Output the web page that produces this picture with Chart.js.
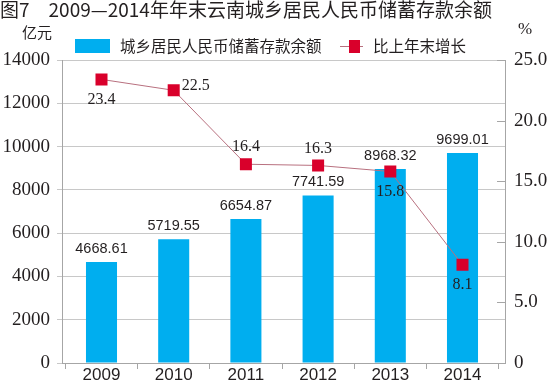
<!DOCTYPE html>
<html>
<head>
<meta charset="utf-8">
<script src="https://cdn.jsdelivr.net/npm/chart.js@4.4.0/dist/chart.umd.min.js"></script>
<style>
html,body{margin:0;padding:0;background:#fff;}
</style>
</head>
<body>
<canvas id="grafica" width="550" height="385"></canvas>
<script>
var title = '图7\u30002009—2014年年末云南城乡居民人民币储蓄存款余额';
var years = ['2009', '2010', '2011', '2012', '2013', '2014'];
var savings = [4668.61, 5719.55, 6654.87, 7741.59, 8968.32, 9699.01];
var growth = [23.4, 22.5, 16.4, 16.3, 15.8, 8.1];
var leftTicks = [0, 2000, 4000, 6000, 8000, 10000, 12000, 14000];
var rightTicks = [0, 5, 10, 15, 20, 25];

var txt = '#231f20';
var gris = '#a6a6a6';
var serif = '"Liberation Serif", "Times New Roman", serif';

var extras = {
    id: 'extras',
    afterLayout: function (chart) {
        // categorias un poco mas angostas que el area, como el original
        var x = chart.scales.x;
        x._startPixel = 65.4;
        x._endPixel = 498.6;
        x._length = 433.2;
    },
    afterDatasetsDraw: function (chart) {
        var ctx = chart.ctx;
        ctx.save();
        ctx.fillStyle = txt;
        // valores de barras
        ctx.font = '14.5px "Liberation Sans"';
        ctx.textAlign = 'center';
        ctx.textBaseline = 'alphabetic';
        chart.getDatasetMeta(0).data.forEach(function (bar, i) {
            ctx.fillText(savings[i].toFixed(2), bar.x, bar.y - 9);
        });
        // valores de la linea
        var lugar = ['abajo', 'derecha', 'arriba', 'arriba', 'abajo', 'abajo'];
        ctx.font = '16px ' + serif;
        ctx.textBaseline = 'middle';
        chart.getDatasetMeta(1).data.forEach(function (p, i) {
            var s = growth[i].toFixed(1);
            if (lugar[i] === 'derecha') {
                ctx.textAlign = 'left';
                ctx.fillText(s, p.x + 8, p.y - 5);
            } else if (lugar[i] === 'arriba') {
                ctx.textAlign = 'center';
                ctx.fillText(s, p.x, p.y - 17);
            } else {
                ctx.textAlign = 'center';
                ctx.fillText(s, p.x, p.y + 20);
            }
        });
        ctx.restore();
    },
    afterDraw: function (chart) {
        var ctx = chart.ctx;
        var ds = chart.data.datasets;
        ctx.save();
        ctx.fillStyle = txt;
        ctx.textBaseline = 'middle';
        ctx.textAlign = 'left';
        ctx.font = '19px "Noto Sans CJK SC"';
        ctx.fillText(title, 0, 10);
        ctx.font = '15px "Noto Sans CJK SC"';
        ctx.textAlign = 'center';
        ctx.fillText('亿元', 37, 32);
        ctx.font = '17px ' + serif;
        ctx.fillText('%', 525, 30);
        // leyenda
        ctx.textAlign = 'left';
        ctx.fillStyle = ds[0].backgroundColor;
        ctx.fillRect(75, 39, 35, 14);
        ctx.fillStyle = txt;
        ctx.font = '15.5px "Noto Sans CJK SC"';
        ctx.fillText(ds[0].label, 120, 46.5);
        ctx.strokeStyle = ds[1].borderColor;
        ctx.lineWidth = 1;
        ctx.beginPath();
        ctx.moveTo(340, 46.5);
        ctx.lineTo(363, 46.5);
        ctx.stroke();
        ctx.fillStyle = ds[1].pointBackgroundColor;
        ctx.fillRect(349, 40, 11, 13);
        ctx.fillStyle = txt;
        ctx.fillText(ds[1].label, 373, 46.5);
        // marcas internas del eje derecho
        var y1 = chart.scales.y1;
        ctx.strokeStyle = gris;
        ctx.beginPath();
        rightTicks.forEach(function (v) {
            if (v === 0) return;
            var py = Math.round(y1.getPixelForValue(v)) + 0.5;
            ctx.moveTo(y1.left - 8, py);
            ctx.lineTo(y1.left, py);
        });
        ctx.stroke();
        ctx.restore();
    }
};

new Chart(document.getElementById('grafica').getContext('2d'), {
    type: 'bar',
    data: {
        labels: years,
        datasets: [{
            label: '城乡居民人民币储蓄存款余额',
            data: savings,
            backgroundColor: '#00aeef',
            barPercentage: 0.43,
            categoryPercentage: 1,
            yAxisID: 'y',
            order: 2
        }, {
            type: 'line',
            label: '比上年末增长',
            data: growth,
            yAxisID: 'y1',
            borderColor: '#b8707f',
            borderWidth: 1,
            pointStyle: 'rect',
            pointRadius: 8.5,
            pointBackgroundColor: '#d9002b',
            pointBorderColor: '#d9002b',
            pointBorderWidth: 0,
            tension: 0,
            order: 1
        }]
    },
    options: {
        responsive: false,
        animation: false,
        devicePixelRatio: 1,
        layout: {padding: {top: 60, left: 0, right: 0, bottom: 0}},
        plugins: {
            legend: {display: false},
            title: {display: false},
            tooltip: {enabled: false}
        },
        scales: {
            x: {
                offset: true,
                grid: {drawOnChartArea: false, offset: true, tickLength: 6, color: gris},
                border: {color: gris},
                ticks: {color: txt, font: {family: '"Liberation Sans", Arial, sans-serif', size: 17}, padding: -4},
                afterFit: function (s) { s.height = 22; }
            },
            y: {
                position: 'left',
                min: leftTicks[0],
                max: leftTicks[leftTicks.length - 1],
                afterBuildTicks: function (s) {
                    s.ticks = leftTicks.map(function (v) { return {value: v}; });
                },
                ticks: {
                    color: txt,
                    font: {family: serif, size: 19},
                    padding: 7,
                    callback: function (v) { return String(v); }
                },
                grid: {color: '#c8c8c8', tickLength: 5},
                border: {color: gris},
                afterFit: function (s) { s.width = 62; }
            },
            y1: {
                position: 'right',
                min: rightTicks[0],
                max: rightTicks[rightTicks.length - 1],
                afterBuildTicks: function (s) {
                    s.ticks = rightTicks.map(function (v) { return {value: v}; });
                },
                ticks: {
                    color: txt,
                    font: {family: serif, size: 19},
                    padding: 9,
                    callback: function (v) { return v === 0 ? '0' : v.toFixed(1); }
                },
                grid: {drawOnChartArea: false, drawTicks: false},
                border: {color: gris},
                afterFit: function (s) { s.width = 45; }
            }
        }
    },
    plugins: [extras]
});
</script>
</body>
</html>
